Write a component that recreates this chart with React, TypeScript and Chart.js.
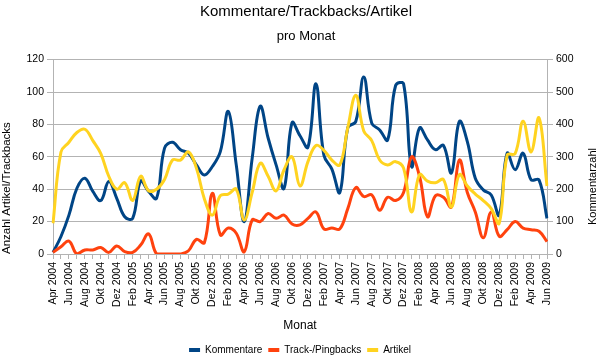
import React, { useEffect, useRef } from "react";
import { Chart, registerables } from "chart.js";

Chart.register(...registerables);

const months: string[] = [
  "Apr 2004", "Mai 2004", "Jun 2004", "Jul 2004", "Aug 2004", "Sep 2004", "Okt 2004", "Nov 2004", "Dez 2004",
  "Jan 2005", "Feb 2005", "Mär 2005", "Apr 2005", "Mai 2005", "Jun 2005", "Jul 2005", "Aug 2005", "Sep 2005", "Okt 2005", "Nov 2005", "Dez 2005",
  "Jan 2006", "Feb 2006", "Mär 2006", "Apr 2006", "Mai 2006", "Jun 2006", "Jul 2006", "Aug 2006", "Sep 2006", "Okt 2006", "Nov 2006", "Dez 2006",
  "Jan 2007", "Feb 2007", "Mär 2007", "Apr 2007", "Mai 2007", "Jun 2007", "Jul 2007", "Aug 2007", "Sep 2007", "Okt 2007", "Nov 2007", "Dez 2007",
  "Jan 2008", "Feb 2008", "Mär 2008", "Apr 2008", "Mai 2008", "Jun 2008", "Jul 2008", "Aug 2008", "Sep 2008", "Okt 2008", "Nov 2008", "Dez 2008",
  "Jan 2009", "Feb 2009", "Mär 2009", "Apr 2009", "Mai 2009", "Jun 2009",
];

// right axis (Kommentarzahl)
const kommentare: number[] = [
  5, 54, 120, 203, 234, 193, 165, 224, 172, 115, 110, 225, 193, 172, 327, 345,
  322, 311, 275, 244, 270, 316, 440, 275, 100, 296, 456, 358, 275, 203, 405, 365,
  330, 525, 305, 262, 190, 390, 409, 546, 404, 383, 352, 520, 525, 270, 389, 352,
  322, 335, 250, 409, 347, 234, 198, 182, 120, 311, 260, 311, 229, 229, 110,
];

// left axis
const trackbacks: number[] = [
  1, 4.5, 8, 0, 2.5, 2.5, 4, 1, 5, 1.5, 1, 5.5, 12.4, 0, 0, 0,
  0, 2, 9, 7, 37.5, 11.8, 16, 12.8, 1.4, 21, 20, 25, 22, 24, 18.5, 18,
  22, 26, 15.5, 16, 15.5, 28, 41, 35.5, 36.5, 27, 35, 33, 38, 60, 48, 23,
  36, 35, 29, 58, 38, 26, 10, 26, 11, 15, 20, 16, 15, 14, 7.6,
];

const artikel: number[] = [
  19, 63, 69, 75, 77, 70, 62, 48, 40, 44, 33, 48, 39, 40, 46, 58,
  58, 63, 53, 34, 24, 36, 37, 40, 21, 38, 56, 48, 39, 52, 60, 42,
  57, 67, 64, 58, 55, 78, 98, 76, 70, 58, 55, 57, 53, 26, 49, 45,
  44, 46, 29, 49, 42, 37, 33, 28, 19, 61, 62, 82, 63, 84, 42,
];

const leftTicks = { min: 0, max: 120, step: 20 };
const rightTicks = { min: 0, max: 600, step: 100 };

const FONT = "'Liberation Sans', Arial, sans-serif";
const GRID = "#b3b3b3";

const layoutTweaks = {
  id: "layoutTweaks",
  afterLayout(chart: any) {
    const l = chart.legend;
    if (l) {
      l.top += 5;
      l.bottom += 5;
    }
    (chart.boxes || []).forEach((b: any) => {
      if (b !== l && b.options && typeof b.options.text === "string" && b.position === "top") {
        b.left += 6;
        b.right += 6;
      }
    });
  },
  afterDraw(chart: any) {
    const s = chart.scales.y1;
    const ctx = chart.ctx;
    ctx.save();
    ctx.font = `11px ${FONT}`;
    ctx.fillStyle = "#000";
    ctx.textAlign = "left";
    ctx.textBaseline = "middle";
    ctx.translate(s.right - 7, s.bottom - 29);
    ctx.rotate(-Math.PI / 2);
    ctx.fillText("Kommentarzahl", 0, 0);
    ctx.restore();
  },
};

export default function App() {
  const ref = useRef<HTMLCanvasElement | null>(null);

  useEffect(() => {
    document.body.style.margin = "0";
    const canvas = ref.current;
    if (!canvas) return;
    const chart = new Chart(canvas, {
      type: "line",
      data: {
        labels: months,
        datasets: [
          {
            label: "Kommentare",
            data: kommentare,
            yAxisID: "y1",
            borderColor: "#004586",
            backgroundColor: "#004586",
            borderWidth: 3,
            pointRadius: 0,
            tension: 0.4,
            order: 3,
          },
          {
            label: "Track-/Pingbacks",
            data: trackbacks,
            yAxisID: "y",
            borderColor: "#ff420e",
            backgroundColor: "#ff420e",
            borderWidth: 3,
            pointRadius: 0,
            tension: 0.4,
            order: 2,
          },
          {
            label: "Artikel",
            data: artikel,
            yAxisID: "y",
            borderColor: "#ffd320",
            backgroundColor: "#ffd320",
            borderWidth: 3,
            pointRadius: 0,
            tension: 0.4,
            order: 1,
          },
        ],
      },
      options: {
        animation: false,
        responsive: false,
        maintainAspectRatio: false,
        layout: { padding: 0 },
        plugins: {
          title: {
            display: true,
            text: "Kommentare/Trackbacks/Artikel",
            color: "#000",
            font: { family: FONT, size: 15, weight: "normal" },
            padding: { top: 3, bottom: 5 },
          },
          subtitle: {
            display: true,
            text: "pro Monat",
            color: "#000",
            font: { family: FONT, size: 13, weight: "normal" },
            padding: { top: 3, bottom: 15 },
          },
          legend: {
            position: "bottom",
            labels: {
              color: "#000",
              font: { family: FONT, size: 10 },
              boxWidth: 11,
              boxHeight: 4,
              padding: 6,
              sort: (a: any, b: any) => a.datasetIndex - b.datasetIndex,
              generateLabels: (chart: any) =>
                (Chart.defaults.plugins.legend.labels as any)
                  .generateLabels(chart)
                  .map((l: any) => ({ ...l, lineWidth: 0 })),
            },
          },
          tooltip: { enabled: false },
        },
        scales: {
          x: {
            type: "category",
            offset: false,
            grid: {
              display: true,
              drawOnChartArea: false,
              drawTicks: true,
              tickLength: 5,
              color: GRID,
            },
            border: { color: GRID },
            ticks: {
              autoSkip: false,
              maxRotation: 90,
              minRotation: 90,
              padding: 3,
              color: "#000",
              font: { family: FONT, size: 10.5 },
              callback: function (this: any, _v: any, i: number) {
                return i % 2 === 0 ? months[i] : "";
              },
            },
            title: {
              display: true,
              text: "Monat",
              color: "#000",
              font: { family: FONT, size: 12 },
              padding: { top: 0, bottom: 1 },
            },
            afterFit: (s: any) => {
              s.height = 80;
            },
          },
          y: {
            position: "left",
            min: leftTicks.min,
            max: leftTicks.max,
            grid: { color: GRID, tickLength: 6 },
            border: { color: GRID },
            ticks: {
              stepSize: leftTicks.step,
              color: "#000",
              padding: 3,
              font: { family: FONT, size: 10.5 },
            },
            title: {
              display: true,
              text: "Anzahl Artikel/Trackbacks",
              align: "start",
              color: "#000",
              font: { family: FONT, size: 11.5 },
              padding: { top: 0, bottom: 0 },
            },
            afterFit: (s: any) => {
              s.width = 53;
            },
          },
          y1: {
            position: "right",
            min: rightTicks.min,
            max: rightTicks.max,
            grid: { drawOnChartArea: false, color: GRID, tickLength: 6 },
            border: { color: GRID },
            ticks: {
              stepSize: rightTicks.step,
              color: "#000",
              padding: 3,
              font: { family: FONT, size: 10.5 },
            },
            afterFit: (s: any) => {
              s.width = 53;
            },
          },
        },
      } as any,
      plugins: [layoutTweaks],
    });
    return () => chart.destroy();
  }, []);

  return (
    <div style={{ width: 600, height: 360 }}>
      <canvas ref={ref} width={600} height={360} style={{ display: "block" }} />
    </div>
  );
}
